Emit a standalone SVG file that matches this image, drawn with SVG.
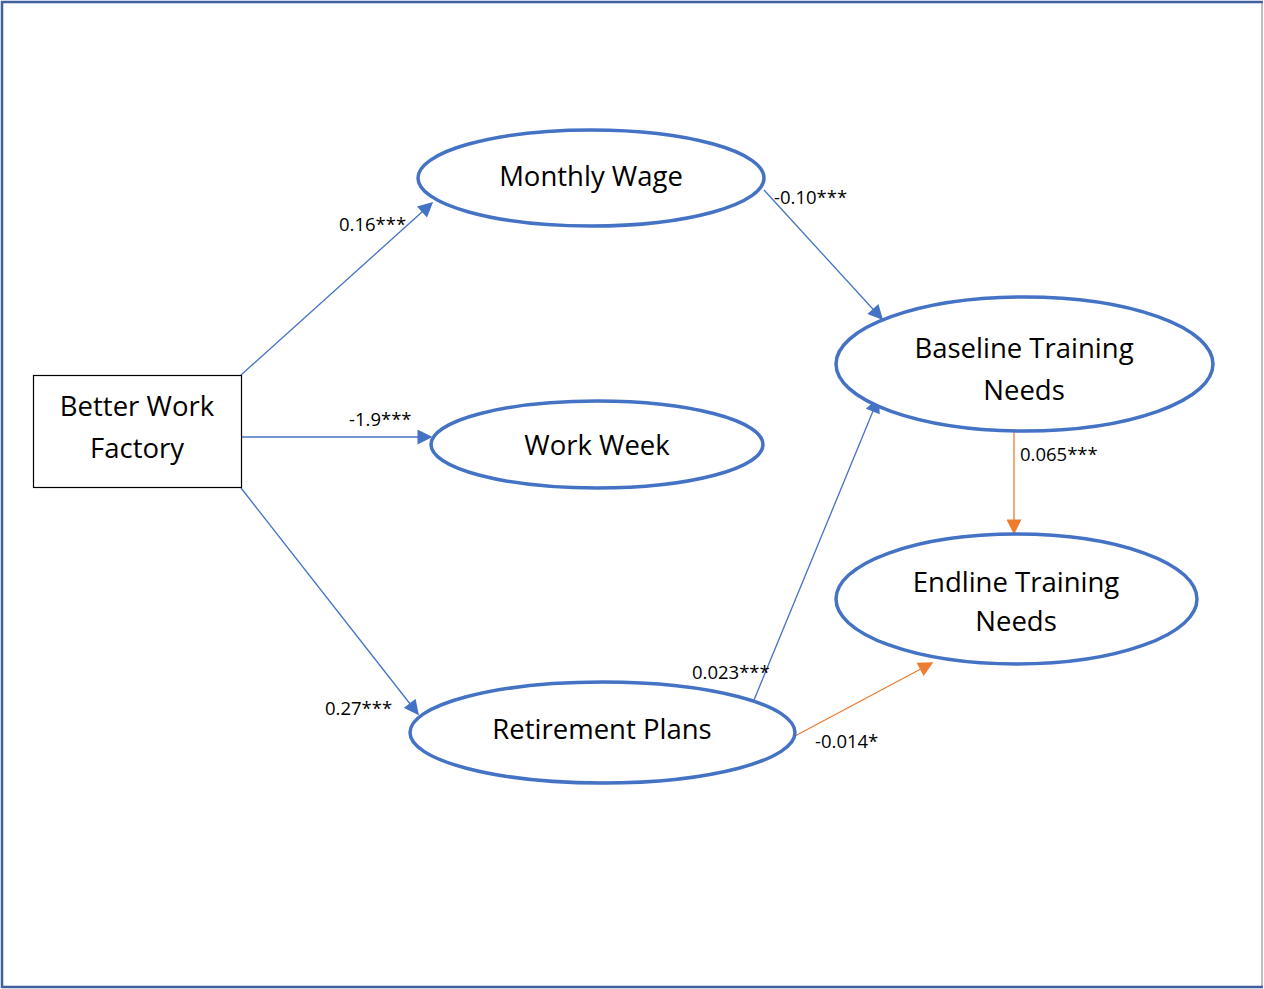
<svg xmlns="http://www.w3.org/2000/svg" width="1264" height="989" viewBox="0 0 1264 989">
  <style>
    .node { fill: #ffffff; stroke: #4472C4; stroke-width: 3.5; }
    .box { fill: #ffffff; stroke: #000000; stroke-width: 1.2; }
    .name { font-family: "Open Sans", "Liberation Sans", sans-serif; font-size: 27.5px; fill: #000000; text-anchor: middle; }
    .coef { font-family: "Open Sans", "Liberation Sans", sans-serif; font-size: 18.5px; fill: #000000; }
    .blue { stroke: #4472C4; stroke-width: 1.3; fill: none; }
    .orange { stroke: #ED7D31; stroke-width: 1.3; fill: none; }
  </style>
  <defs>
    <marker id="arrowBlue" viewBox="0 0 10 10" refX="9" refY="5" markerWidth="16" markerHeight="15" markerUnits="userSpaceOnUse" orient="auto">
      <path d="M0,0 L10,5 L0,10 z" fill="#4472C4"/>
    </marker>
    <marker id="arrowOrange" viewBox="0 0 10 10" refX="9" refY="5" markerWidth="16" markerHeight="15" markerUnits="userSpaceOnUse" orient="auto">
      <path d="M0,0 L10,5 L0,10 z" fill="#ED7D31"/>
    </marker>
  </defs>

  <rect x="0" y="0" width="1264" height="989" fill="#ffffff"/>
  <!-- outer frame -->
  <path d="M2,988 L2,2 L1263,2" fill="none" stroke="#3F5FA0" stroke-width="2.5"/>
  <path d="M1262,2 L1262,987" fill="none" stroke="#7F7F7F" stroke-width="1"/>
  <path d="M2,987 L1263,987" fill="none" stroke="#3F5FA0" stroke-width="2.5"/>

  <g id="connectors">
    <line class="blue" x1="241" y1="375" x2="432" y2="203" marker-end="url(#arrowBlue)"/>
    <line class="blue" x1="241" y1="437" x2="431" y2="437" marker-end="url(#arrowBlue)"/>
    <line class="blue" x1="241" y1="488" x2="418" y2="714" marker-end="url(#arrowBlue)"/>
    <line class="blue" x1="764" y1="190" x2="882" y2="319" marker-end="url(#arrowBlue)"/>
    <line class="blue" x1="754" y1="700" x2="878" y2="399" marker-end="url(#arrowBlue)"/>
    <line class="orange" x1="1014" y1="432" x2="1014" y2="533" marker-end="url(#arrowOrange)"/>
    <line class="orange" x1="795" y1="736" x2="932" y2="663" marker-end="url(#arrowOrange)"/>
    <text class="coef" x="339" y="231">0.16***</text>
    <text class="coef" x="774" y="204">-0.10***</text>
    <text class="coef" x="349" y="426">-1.9***</text>
    <text class="coef" x="325" y="715">0.27***</text>
    <text class="coef" x="1020" y="461">0.065***</text>
    <text class="coef" x="692" y="679">0.023***</text>
    <text class="coef" x="815" y="748">-0.014*</text>
  </g>

  <g id="better-work-factory">
    <rect class="box" x="33.5" y="375.5" width="208" height="112"/>
    <text class="name" x="137" y="416">Better Work</text>
    <text class="name" x="137" y="458">Factory</text>
  </g>

  <g id="monthly-wage">
    <ellipse class="node" cx="591" cy="178" rx="173" ry="48"/>
    <text class="name" x="591" y="186">Monthly Wage</text>
  </g>

  <g id="work-week">
    <ellipse class="node" cx="597" cy="444.5" rx="166" ry="43.5"/>
    <text class="name" x="597" y="455">Work Week</text>
  </g>

  <g id="retirement-plans">
    <ellipse class="node" cx="602.5" cy="732.5" rx="192.5" ry="50.5"/>
    <text class="name" x="602" y="739">Retirement Plans</text>
  </g>

  <g id="baseline-training-needs">
    <ellipse class="node" cx="1024.5" cy="364" rx="188.5" ry="67"/>
    <text class="name" x="1024" y="358">Baseline Training</text>
    <text class="name" x="1024" y="400">Needs</text>
  </g>

  <g id="endline-training-needs">
    <ellipse class="node" cx="1016.5" cy="599" rx="180.5" ry="65"/>
    <text class="name" x="1016" y="592">Endline Training</text>
    <text class="name" x="1016" y="631">Needs</text>
  </g>
</svg>
